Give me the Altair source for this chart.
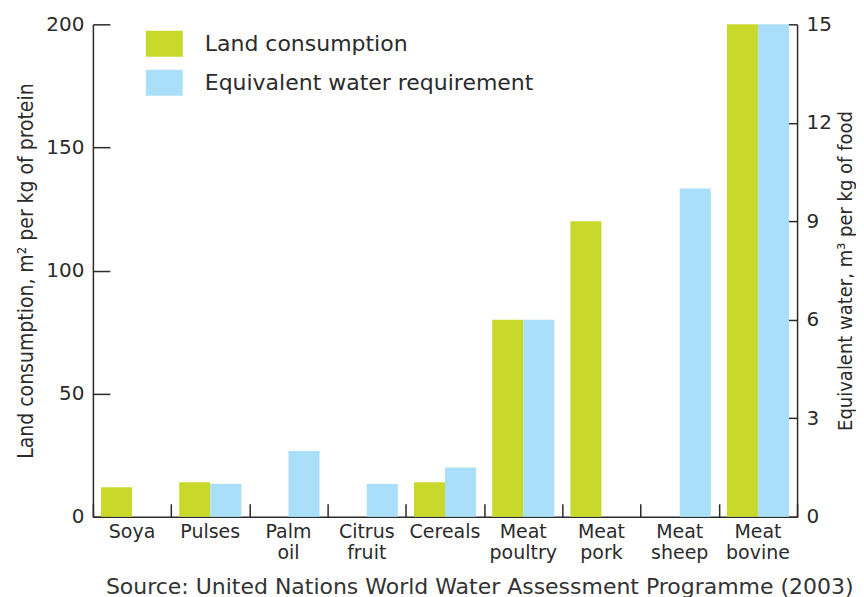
import altair as alt
import pandas as pd

categories = ["Soya", "Pulses", "Palm oil", "Citrus fruit", "Cereals",
              "Meat poultry", "Meat pork", "Meat sheep", "Meat bovine"]
land_values = [12, 14, None, None, 14, 80, 120, None, 200]
water_values = [None, 1, 2, 1, 1.5, 6, None, 10, 15]
series_names = ["Land consumption", "Equivalent water requirement"]
series_colors = ["#c9d92b", "#aadff9"]
left_ticks = [0, 50, 100, 150, 200]
right_ticks = [0, 3, 6, 9, 12, 15]
source_text = "Source: United Nations World Water Assessment Programme (2003)"

rows = []
for c, l, w in zip(categories, land_values, water_values):
    if l is not None:
        rows.append({"category": c, "series": series_names[0], "value": l})
    if w is not None:
        rows.append({"category": c, "series": series_names[1], "value": w})
df = pd.DataFrame(rows)

FONT = "DejaVu Sans"
COND = "Liberation Sans Narrow, DejaVu Sans Condensed, Roboto Condensed, Liberation Sans"
INK = "#2b2b2b"

x_scale = alt.Scale(paddingInner=0, paddingOuter=0)
off_scale = alt.Scale(domain=series_names, paddingInner=0, paddingOuter=0.26)

color = alt.Color(
    "series:N",
    scale=alt.Scale(domain=series_names, range=series_colors),
    legend=alt.Legend(
        orient="none", legendX=53, legendY=1, title=None,
        symbolType="M-1,-0.7H1V0.7H-1Z", symbolSize=1369, symbolStrokeWidth=0,
        labelFont=FONT, labelFontSize=22, labelColor=INK, labelOffset=22,
        labelLimit=600, rowPadding=7, padding=0,
    ),
)

x_main_axis = alt.Axis(
    orient="bottom", title=None, ticks=False, tickSize=0, domain=True,
    domainColor=INK, domainWidth=1.5, labelAngle=0, labelFont=FONT,
    labelFontSize=19, labelColor=INK, labelPadding=6,
    labelExpr="split(datum.label, ' ')", labelLineHeight=21,
)
x_tick_axis = alt.Axis(
    orient="bottom", title=None, labels=False, domain=False, ticks=True,
    tickSize=13, offset=-13, tickBand="extent", tickColor=INK, tickWidth=1.5,
)

land = alt.datum.series == series_names[0]
water = alt.datum.series == series_names[1]

base = alt.Chart(df)
off = alt.XOffset("series:N", scale=off_scale)

layer_land = base.transform_filter(land).mark_bar().encode(
    x=alt.X("category:N", sort=categories, scale=x_scale, axis=x_main_axis),
    xOffset=off,
    y=alt.Y("value:Q", scale=alt.Scale(domain=[0, 200], nice=False),
            axis=alt.Axis(orient="left", values=left_ticks, ticks=False, tickSize=0,
                          domainColor=INK, domainWidth=1.5, labelFont=FONT,
                          labelFontSize=20, labelColor=INK, labelPadding=9,
                          title="Land consumption, m² per kg of protein",
                          titleFont=COND, titleFontSize=21, titleFontWeight="normal",
                          titleColor=INK, titlePadding=9)),
    color=color,
)

layer_land_ticks = base.transform_filter(land).mark_bar(opacity=0).encode(
    x=alt.X("category:N", sort=categories, scale=x_scale, axis=x_tick_axis),
    xOffset=off,
    y=alt.Y("value:Q", scale=alt.Scale(domain=[0, 200], nice=False),
            axis=alt.Axis(orient="left", values=left_ticks, labels=False, domain=False,
                          tickSize=17, offset=-17, tickColor=INK, tickWidth=1.5,
                          title=None)),
)

layer_water = base.transform_filter(water).mark_bar().encode(
    x=alt.X("category:N", sort=categories, scale=x_scale, axis=None),
    xOffset=off,
    y=alt.Y("value:Q", scale=alt.Scale(domain=[0, 15], nice=False),
            axis=alt.Axis(orient="right", values=right_ticks, ticks=False, tickSize=0,
                          domainColor=INK, domainWidth=1.5, labelFont=FONT,
                          labelFontSize=20, labelColor=INK, labelPadding=9,
                          title="Equivalent water, m³ per kg of food",
                          titleFont=COND, titleFontSize=20, titleFontWeight="normal",
                          titleColor=INK, titlePadding=4, titleAngle=270,
                          titleBaseline="top")),
    color=color,
)

layer_water_ticks = base.transform_filter(water).mark_bar(opacity=0).encode(
    x=alt.X("category:N", sort=categories, scale=x_scale, axis=None),
    xOffset=off,
    y=alt.Y("value:Q", scale=alt.Scale(domain=[0, 15], nice=False),
            axis=alt.Axis(orient="right", values=right_ticks, labels=False, domain=False,
                          tickSize=9, offset=-9, tickColor=INK, tickWidth=1.5,
                          title=None)),
)

chart = (
    alt.layer(layer_land, layer_land_ticks, layer_water, layer_water_ticks)
    .resolve_scale(y="independent")
    .resolve_axis(x="independent", y="independent")
    .properties(
        width=705, height=493,
        padding={"left": 7, "top": 6, "right": 0, "bottom": 0},
        title=alt.TitleParams(source_text, orient="bottom", anchor="start",
                              frame="group", font=FONT, fontSize=22,
                              fontWeight="normal", color="#333333",
                              offset=14, dx=13),
    )
    .configure_view(stroke=None)
    .configure_axis(grid=False)
)

chart.save("out.html", embed_options={"renderer": "svg", "actions": False})
